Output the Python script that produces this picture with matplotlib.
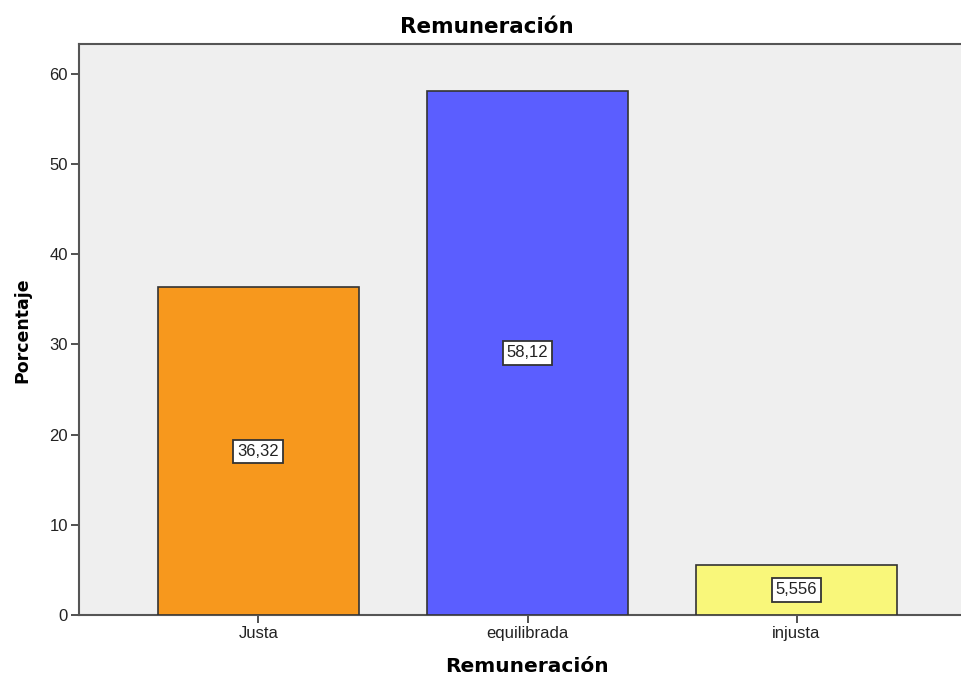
import matplotlib
matplotlib.use("Agg")
import matplotlib.pyplot as plt

categories = ["Justa", "equilibrada", "injusta"]
percentages = [36.32, 58.12, 5.556]
value_labels = ["36,32", "58,12", "5,556"]
bar_colors = ["#F7981D", "#5B5EFF", "#F9F77A"]
y_ticks = [0, 10, 20, 30, 40, 50, 60]

plt.rcParams["font.family"] = ["Liberation Sans", "DejaVu Sans"]
BOLD = ["DejaVu Sans"]

W, H = 961, 677
fig = plt.figure(figsize=(W / 100, H / 100), dpi=100)
ax = fig.add_axes([79 / W, 62 / H, 897 / W, 571 / H])
ax.set_facecolor("#EFEFEF")

x = list(range(len(categories)))
ax.bar(x, percentages, width=0.747, color=bar_colors,
       edgecolor="#333333", linewidth=1.2, zorder=3)

for xi, val, lab in zip(x, percentages, value_labels):
    ax.text(xi, val / 2, lab, ha="center", va="center", fontsize=12,
            color="#222222", zorder=4,
            bbox=dict(boxstyle="square,pad=0.25", facecolor="white",
                      edgecolor="#333333", linewidth=1.3))

ax.set_xlim(-0.667, 2.667)
ax.set_ylim(0, 63.3)
ax.set_yticks(y_ticks)
ax.set_yticklabels([str(t) for t in y_ticks], fontsize=12, color="#222222")
ax.set_xticks(x)
ax.set_xticklabels(categories, fontsize=12, color="#222222")
ax.tick_params(axis="both", direction="out", length=6, width=1.2,
               color="#333333", pad=2)

for side in ["left", "bottom", "top"]:
    ax.spines[side].set_color("#555555")
    ax.spines[side].set_linewidth(1.5)
ax.spines["right"].set_visible(False)

fig.text(22 / W, 1 - 330 / H, "Porcentaje", ha="center", va="center",
         rotation=90, fontsize=12.5, fontweight="bold", family=BOLD)
fig.text(527 / W, 1 - 667 / H, "Remuneración", ha="center", va="center",
         fontsize=14.5, fontweight="bold", family=BOLD)
fig.text(487 / W, 1 - 27 / H, "Remuneración", ha="center", va="center",
         fontsize=15.5, fontweight="bold", family=BOLD)

fig.savefig("out.png", dpi=100)
